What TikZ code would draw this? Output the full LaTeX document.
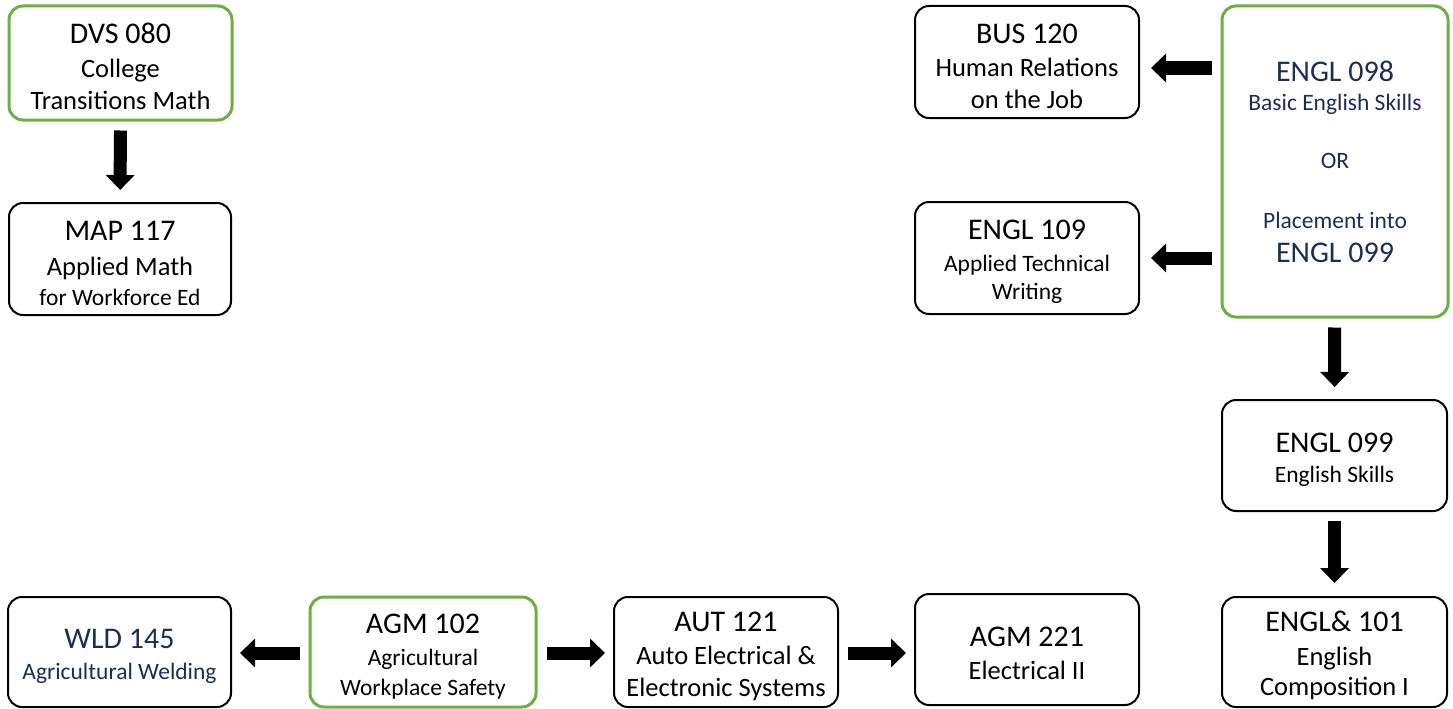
\documentclass[tikz,border=0pt]{standalone}
\usepackage{fontspec}
\setmainfont{Carlito}
\usetikzlibrary{arrows.meta}
\definecolor{boxgreen}{RGB}{112,173,71}
\definecolor{navy}{RGB}{31,45,82}
\tikzset{
  box/.style={draw=black, line width=2pt, rounded corners=14pt, fill=white, align=center, inner sep=2pt,
    font=\fontsize{26.5}{32}\selectfont},
  gbox/.style={box, draw=boxgreen, line width=3pt},
  bigarrow/.style={line width=13pt, -{Triangle[width=28pt,length=15pt]}},
}
\newcommand{\ttlplain}[1]{{\fontsize{30}{32}\selectfont #1}}
\newcommand{\ttl}[1]{{\fontsize{30}{32}\selectfont\rule{0pt}{28pt}#1}}
\newcommand{\smt}[1]{{\fontsize{23.5}{32}\selectfont #1}}
\begin{document}
\begin{tikzpicture}[x=1pt,y=-1pt]
\useasboundingbox[fill=white] (0,0) rectangle (1453,709);
% top-left
\node[gbox, minimum width=223pt, minimum height=114pt] (dvs) at (120.5,63) {\ttl{DVS 080}\\[2pt]College\\Transitions Math};
\node[box, minimum width=222pt, minimum height=112pt] (map) at (120,259) {\ttl{MAP 117}\\[3pt]Applied Math\\[-2pt]\smt{for Workforce Ed}};
% top-right
\node[box, minimum width=224pt, minimum height=112pt] (bus) at (1027,62) {\ttl{BUS 120}\\[1pt]Human Relations\\on the Job};
\node[box, minimum width=224pt, minimum height=112pt] (e109) at (1027,258) {\ttl{ENGL 109}\\\smt{Applied Technical}\\[-4pt]\smt{Writing}};
\node[gbox, minimum width=226pt, minimum height=311pt, text=navy] (e098) at (1335,161.5) {\ttlplain{ENGL 098}\\[-3pt]\smt{Basic English Skills}\\[26pt]\smt{OR}\\[28pt]\smt{Placement into}\\[2pt]\ttlplain{ENGL 099}};
\node[box, minimum width=225pt, minimum height=111pt] (e099) at (1334.5,455.5) {\ttl{ENGL 099}\\[-2pt]\smt{English Skills}};
\node[box, minimum width=225pt, minimum height=110pt] (e101) at (1334.5,652) {\ttl{ENGL\& 101}\\[2pt]English\\[-2pt]Composition I};
% bottom row
\node[box, minimum width=223pt, minimum height=110pt, text=navy] (wld) at (119.5,652) {\ttl{WLD 145}\\[-1pt]\smt{Agricultural Welding}};
\node[gbox, minimum width=226pt, minimum height=110pt] (agm102) at (423,652) {\ttl{AGM 102}\\\smt{Agricultural}\\[-2pt]\smt{Workplace Safety}};
\node[box, minimum width=224pt, minimum height=110pt] (aut) at (726,652) {\ttl{AUT 121}\\[1pt]Auto Electrical \&\\Electronic Systems};
\node[box, minimum width=224pt, minimum height=111pt] (agm221) at (1027,649.5) {\ttl{AGM 221}\\[1pt]Electrical II};
% arrows
\draw[bigarrow, shorten <=9pt, shorten >=12pt] (dvs) -- (map);
\draw[bigarrow, shorten <=9pt, shorten >=11pt] (e098.west |- 0,68) -- (bus.east |- 0,68);
\draw[bigarrow, shorten <=9pt, shorten >=11pt] (e098.west |- e109) -- (e109);
\draw[bigarrow, shorten <=9pt, shorten >=12pt] (e098) -- (e099);
\draw[bigarrow, shorten <=9pt, shorten >=13pt] (e099) -- (e101);
\draw[bigarrow, shorten <=9pt, shorten >=8pt] (agm102.west |- 0,653) -- (wld.east |- 0,653);
\draw[bigarrow, shorten <=9pt, shorten >=8pt] (agm102.east |- 0,653) -- (aut.west |- 0,653);
\draw[bigarrow, shorten <=9pt, shorten >=8pt] (aut.east |- 0,653) -- (agm221.west |- 0,653);
\end{tikzpicture}
\end{document}
